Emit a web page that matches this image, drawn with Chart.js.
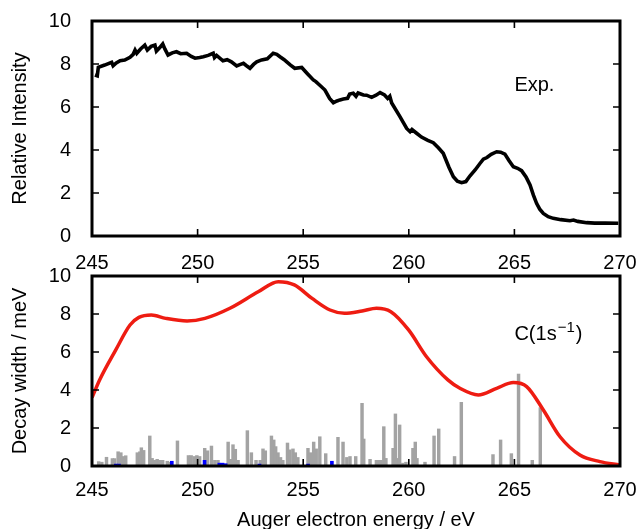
<!DOCTYPE html>
<html><head><meta charset="utf-8">
<script src="https://cdn.jsdelivr.net/npm/chart.js@4"></script>
<style>
html,body{margin:0;padding:0;background:#fff;}
#wrap{position:relative;width:640px;height:529px;overflow:hidden;background:#fff;}
#c1{position:absolute;left:0;top:0;}
#c2{position:absolute;left:0;top:250px;}
</style></head><body>
<div id="wrap"><canvas id="c1" width="640" height="276"></canvas><canvas id="c2" width="640" height="279"></canvas></div>
<script>
// ---------- data ----------
const expEnergy = [245.14,245.25,245.3,245.6,245.93,246.0,246.15,246.33,246.55,246.8,246.95,247.04,247.12,247.3,247.5,247.62,247.8,247.98,248.05,248.2,248.35,248.45,248.6,248.8,249.0,249.2,249.48,249.7,249.88,250.1,250.27,250.5,250.74,250.8,250.9,251.2,251.4,251.6,251.85,252.0,252.17,252.3,252.48,252.65,252.8,253.03,253.3,253.58,253.75,253.9,254.1,254.22,254.4,254.6,254.93,255.2,255.48,255.6,255.8,256.03,256.25,256.43,256.6,256.74,256.9,257.1,257.2,257.37,257.5,257.6,257.85,258.0,258.24,258.45,258.64,258.85,259.0,259.1,259.19,259.58,259.9,260.06,260.15,260.37,260.6,260.9,261.16,261.4,261.63,261.9,262.11,262.3,262.5,262.7,262.9,263.14,263.35,263.53,263.7,263.9,264.16,264.35,264.55,264.75,264.95,265.15,265.34,265.55,265.74,265.9,266.05,266.2,266.37,266.6,266.84,267.2,267.63,267.8,268.0,268.42,268.8,269.3,269.92];
const expIntensity = [7.49,7.45,7.85,7.95,8.08,7.92,8.05,8.15,8.18,8.31,8.45,8.65,8.5,8.7,8.88,8.65,8.82,8.88,8.6,8.75,8.93,8.7,8.42,8.52,8.57,8.48,8.5,8.35,8.27,8.3,8.34,8.4,8.5,8.3,8.4,8.15,8.2,8.1,7.91,7.97,8.03,7.93,7.8,7.98,8.1,8.19,8.24,8.5,8.45,8.34,8.2,8.1,7.95,7.8,7.84,7.55,7.26,7.18,7.0,6.79,6.4,6.2,6.28,6.33,6.37,6.4,6.6,6.64,6.5,6.65,6.56,6.55,6.45,6.55,6.67,6.56,6.4,6.5,6.19,5.55,5.0,4.85,4.95,4.78,4.6,4.45,4.34,4.1,3.85,3.2,2.76,2.55,2.48,2.53,2.8,3.07,3.35,3.57,3.65,3.8,3.92,3.9,3.81,3.5,3.22,3.15,3.04,2.75,2.37,1.9,1.52,1.25,1.05,0.9,0.82,0.76,0.71,0.74,0.68,0.62,0.6,0.6,0.59];

const widthEnergy = [245.0,245.36,246.12,246.8,247.22,247.81,248.49,249.5,250.35,251.53,252.89,253.82,254.58,255.42,256.27,256.95,257.79,258.47,259.15,259.99,260.84,261.85,262.42,263.29,264.16,264.95,265.58,266.37,267.16,268.1,269.05,270.0];
const widthValue  = [3.6,4.53,6.1,7.42,7.82,7.95,7.77,7.63,7.77,8.3,9.18,9.7,9.53,8.82,8.21,8.04,8.16,8.3,8.12,7.16,5.75,4.53,4.09,3.74,4.09,4.39,4.18,2.95,1.54,0.58,0.23,0.05];

const stickEnergy = [245.25,245.4,245.62,245.9,246.0,246.17,246.3,246.4,246.53,247.08,247.2,247.27,247.38,247.67,247.78,247.9,248.02,248.13,248.28,248.5,248.65,248.98,249.5,249.63,249.78,249.9,250.03,250.27,250.4,250.59,250.75,250.9,251.38,251.5,251.61,251.72,251.85,252.29,252.48,252.7,252.9,253.03,253.14,253.43,253.54,253.63,253.74,253.86,253.97,254.19,254.3,254.45,254.56,254.68,255.16,255.28,255.43,255.55,255.72,256.0,256.58,256.82,257.0,257.15,257.42,257.72,257.8,258.1,258.4,258.5,258.62,258.75,258.85,259.19,259.3,259.4,259.5,259.65,259.8,260.13,260.24,260.32,260.7,261.13,261.35,262.1,262.42,263.92,264.28,264.79,265.13,265.78,266.16];
const stickWidth  = [0.23,0.2,0.46,0.39,0.39,0.75,0.7,0.5,0.54,0.7,0.75,0.96,0.82,1.58,0.4,0.3,0.35,0.3,0.3,0.25,0.2,1.32,0.55,0.55,0.5,0.55,0.5,0.93,0.8,1.05,0.3,0.3,1.26,0.35,1.12,0.88,0.3,1.86,0.7,0.3,0.3,0.9,0.8,1.58,1.37,1.02,0.7,0.45,0.3,1.21,0.85,0.9,0.7,0.45,0.93,0.7,1.26,0.9,1.54,0.65,1.51,1.26,0.45,0.5,0.5,3.3,1.42,0.35,0.3,0.3,0.3,2.07,0.4,0.93,2.74,0.4,2.16,0.15,0.2,0.93,1.26,0.4,0.2,1.58,1.95,0.5,3.35,0.6,1.37,0.65,4.84,0.3,3.07];

const blueEnergy = [246.2,246.35,248.85,250.4,251.1,251.25,251.4,253.0,255.3,256.43];
const blueWidth  = [0.1,0.1,0.25,0.3,0.15,0.15,0.12,0.1,0.1,0.25];

const xTicks = [245,250,255,260,265,270];
const yTicks = [0,2,4,6,8,10];

// ---------- helpers ----------
const FONT = '"Liberation Sans", Arial, Helvetica, sans-serif';
const pts = (xs, ys) => xs.map((x, i) => ({x, y: ys[i]}));

const framePlugin = {
  id: 'frame',
  afterDraw(chart, args, opts) {
    const {ctx, chartArea: a, scales: {x, y}} = chart;
    ctx.save();
    ctx.strokeStyle = '#000';
    ctx.lineWidth = 1.6;
    ctx.beginPath();
    x.ticks.forEach(t => {
      const px = x.getPixelForValue(t.value);
      ctx.moveTo(px, a.bottom); ctx.lineTo(px, a.bottom - 7);
      ctx.moveTo(px, a.top); ctx.lineTo(px, a.top + 7);
    });
    y.ticks.forEach(t => {
      const py = y.getPixelForValue(t.value);
      ctx.moveTo(a.left, py); ctx.lineTo(a.left + 7, py);
      ctx.moveTo(a.right, py); ctx.lineTo(a.right - 7, py);
    });
    ctx.stroke();
    ctx.lineWidth = 3;
    ctx.strokeRect(a.left, a.top, a.right - a.left, a.bottom - a.top);
    if (opts.label) {
      const L = opts.label;
      let px = x.getPixelForValue(L.x), py = y.getPixelForValue(L.y);
      ctx.fillStyle = '#000';
      ctx.textBaseline = 'middle';
      ctx.textAlign = 'left';
      ctx.font = '20px ' + FONT;
      ctx.fillText(L.text, px, py);
      if (L.sup) {
        px += ctx.measureText(L.text).width;
        ctx.font = '15px ' + FONT;
        ctx.fillText(L.sup, px + 1, py - 7);
        px += ctx.measureText(L.sup).width + 2;
        ctx.font = '20px ' + FONT;
        ctx.fillText(L.after, px, py);
      }
    }
    ctx.restore();
  }
};

function xScale(showTitle, axisHeight, tickPad) {
  return {
    type: 'linear', min: 245, max: 270, offset: false,
    grid: {display: false, offset: false},
    border: {display: false},
    afterBuildTicks: s => { s.ticks = xTicks.map(v => ({value: v})); },
    ticks: {color: '#000', font: {family: FONT, size: 20}, padding: tickPad, maxRotation: 0, autoSkip: false},
    title: showTitle ? {display: true, text: 'Auger electron energy / eV', color: '#000', font: {family: FONT, size: 20}, padding: {top: 0, bottom: -3}} : {display: false},
    afterFit: s => { s.height = axisHeight; s.paddingLeft = 0; s.paddingRight = 0; }
  };
}
function yScale(title) {
  return {
    type: 'linear', min: 0, max: 10,
    grid: {display: false},
    border: {display: false},
    afterBuildTicks: s => { s.ticks = yTicks.map(v => ({value: v})); },
    ticks: {color: '#000', font: {family: FONT, size: 20}, padding: 13},
    title: {display: true, text: title, color: '#000', font: {family: FONT, size: 20}, padding: {top: 8, bottom: 0}},
    afterFit: s => { s.width = 92; s.paddingTop = 0; s.paddingBottom = 0; }
  };
}

Chart.defaults.animation = false;

new Chart(document.getElementById('c1'), {
  type: 'line',
  data: {
    datasets: [{
      data: pts(expEnergy, expIntensity),
      borderColor: '#000', borderWidth: 3.6, pointRadius: 0, tension: 0, fill: false
    }]
  },
  options: {
    responsive: false, devicePixelRatio: 1, animation: false,
    layout: {padding: {left: 0, right: 20, top: 21, bottom: 0}},
    plugins: {legend: {display: false}, tooltip: {enabled: false},
      frame: {label: {text: 'Exp.', x: 265.0, y: 7.0}}},
    scales: {x: xScale(false, 40, 7), y: yScale('Relative Intensity')}
  },
  plugins: [framePlugin]
});

new Chart(document.getElementById('c2'), {
  type: 'line',
  data: {
    datasets: [
      {
        type: 'line',
        data: pts(widthEnergy, widthValue),
        borderColor: '#ee1c12', borderWidth: 3.5, pointRadius: 0,
        cubicInterpolationMode: 'monotone', fill: false, order: 0
      },
      {
        type: 'bar',
        data: pts(stickEnergy, stickWidth),
        backgroundColor: '#a3a3a3', borderWidth: 0, barThickness: 2.8, order: 2
      },
      {
        type: 'bar',
        data: pts(blueEnergy, blueWidth),
        backgroundColor: '#0000ff', borderWidth: 0, barThickness: 3, order: 1
      }
    ]
  },
  options: {
    responsive: false, devicePixelRatio: 1, animation: false,
    layout: {padding: {left: 0, right: 20, top: 26, bottom: 0}},
    plugins: {legend: {display: false}, tooltip: {enabled: false},
      frame: {label: {text: 'C(1s', sup: '\u22121', after: ')', x: 265.0, y: 6.9}}},
    scales: {x: xScale(true, 63, 4), y: yScale('Decay width / meV')}
  },
  plugins: [framePlugin]
});
</script>
</body></html>
